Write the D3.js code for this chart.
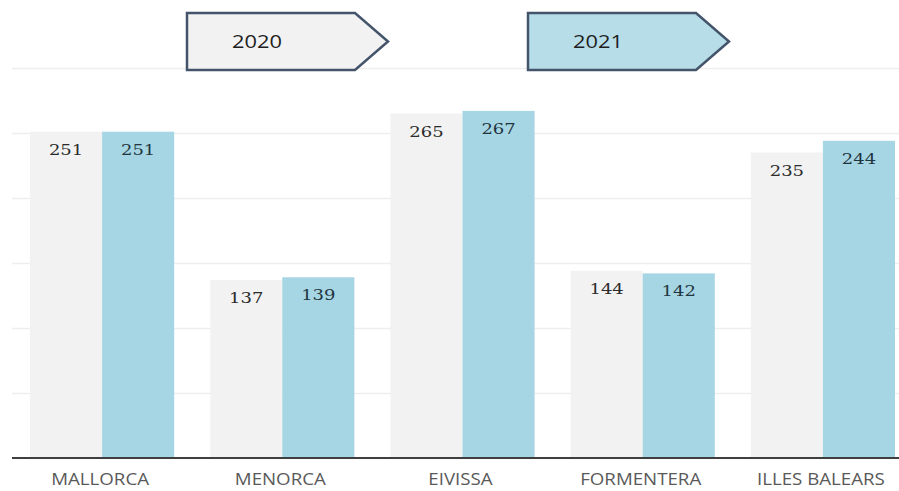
<!DOCTYPE html>
<html>
<head>
<meta charset="utf-8">
<script src="https://cdn.jsdelivr.net/npm/d3@7"></script>
<style>
  html, body { margin: 0; padding: 0; background: #ffffff; }
  svg { display: block; }
</style>
</head>
<body>
<svg id="chart" width="899" height="491"></svg>
<script>
const categories = ["MALLORCA", "MENORCA", "EIVISSA", "FORMENTERA", "ILLES BALEARS"];
const seriesNames = ["2020", "2021"];
const values2020 = [251, 137, 265, 144, 235];
const values2021 = [251, 139, 267, 142, 244];
const yTicks = [0, 50, 100, 150, 200, 250, 300];

const colors = { "2020": "#f2f2f2", "2021": "#a6d5e3" };
const legendFill = { "2020": "#f2f2f2", "2021": "#b6dde8" };

const svg = d3.select("#chart");
const W = 899, H = 491;
const plot = { left: 12, right: 913, top: 68, bottom: 458 };

const x = d3.scaleBand().domain(categories).range([plot.left, plot.right])
  .paddingInner(0.2).paddingOuter(0.1);
const xs = d3.scaleBand().domain(seriesNames).range([0, x.bandwidth()]).padding(0);
const y = d3.scaleLinear().domain([0, 300]).range([plot.bottom, plot.top]);

// gridlines
const grid = svg.append("g").attr("transform", `translate(${plot.left},0)`)
  .call(d3.axisLeft(y).tickValues(yTicks).tickSize(-(W - plot.left)).tickFormat(""));
grid.select(".domain").remove();
grid.selectAll(".tick line").attr("stroke", "#eeeeee").attr("stroke-width", 1.5);

const data = categories.map((c, i) => ({ cat: c, vals: [
  { s: "2020", v: values2020[i] }, { s: "2021", v: values2021[i] } ] }));

const groups = svg.append("g").selectAll("g").data(data).join("g")
  .attr("transform", d => `translate(${x(d.cat)},0)`);

groups.selectAll("rect").data(d => d.vals).join("rect")
  .attr("x", d => xs(d.s))
  .attr("y", d => y(d.v))
  .attr("width", xs.bandwidth())
  .attr("height", d => y(0) - y(d.v))
  .attr("fill", d => colors[d.s]);

groups.selectAll("text.val").data(d => d.vals).join("text")
  .attr("class", "val")
  .attr("transform", d => `translate(${xs(d.s) + xs.bandwidth() / 2},${y(d.v) + 23}) scale(1.2,1)`)
  .attr("text-anchor", "middle")
  .attr("font-family", "'DejaVu Serif', serif")
  .attr("font-size", 15)
  .attr("fill", d => d.s === "2021" ? "#1f3540" : "#2b2b2b")
  .text(d => d.v);

// x axis baseline
const xAxis = svg.append("g").attr("transform", `translate(0,${plot.bottom})`)
  .call(d3.axisBottom(x).tickSize(0).tickPadding(0));
xAxis.select(".domain").remove();
svg.append("line")
  .attr("x1", plot.left).attr("x2", W)
  .attr("y1", plot.bottom).attr("y2", plot.bottom)
  .attr("stroke", "#3f3f3f").attr("stroke-width", 2);
xAxis.selectAll(".tick text")
  .attr("transform", "translate(-2,27) scale(1.1,1)")
  .attr("y", 0).attr("dy", 0)
  .attr("font-family", "'Open Sans', sans-serif")
  .attr("font-size", 17)
  .attr("fill", "#595959");

// legend (pentagon arrows)
const legendX = [187, 528];
const legend = svg.append("g").selectAll("g").data(seriesNames).join("g")
  .attr("transform", (d, i) => `translate(${legendX[i]},13)`);
const lw = 168, tip = 33, lh = 57;
legend.append("path")
  .attr("d", `M0,0 H${lw} L${lw + tip},${lh / 2} L${lw},${lh} H0 Z`)
  .attr("fill", d => legendFill[d])
  .attr("stroke", "#44546a")
  .attr("stroke-width", 2.5)
  .attr("stroke-linejoin", "miter");
legend.append("text")
  .attr("transform", `translate(70,35) scale(1.18,1)`)
  .attr("text-anchor", "middle")
  .attr("font-family", "'Open Sans', sans-serif")
  .attr("font-weight", 500)
  .attr("font-size", 18.5)
  .attr("fill", "#1e1e1e")
  .text(d => d);
</script>
</body>
</html>
